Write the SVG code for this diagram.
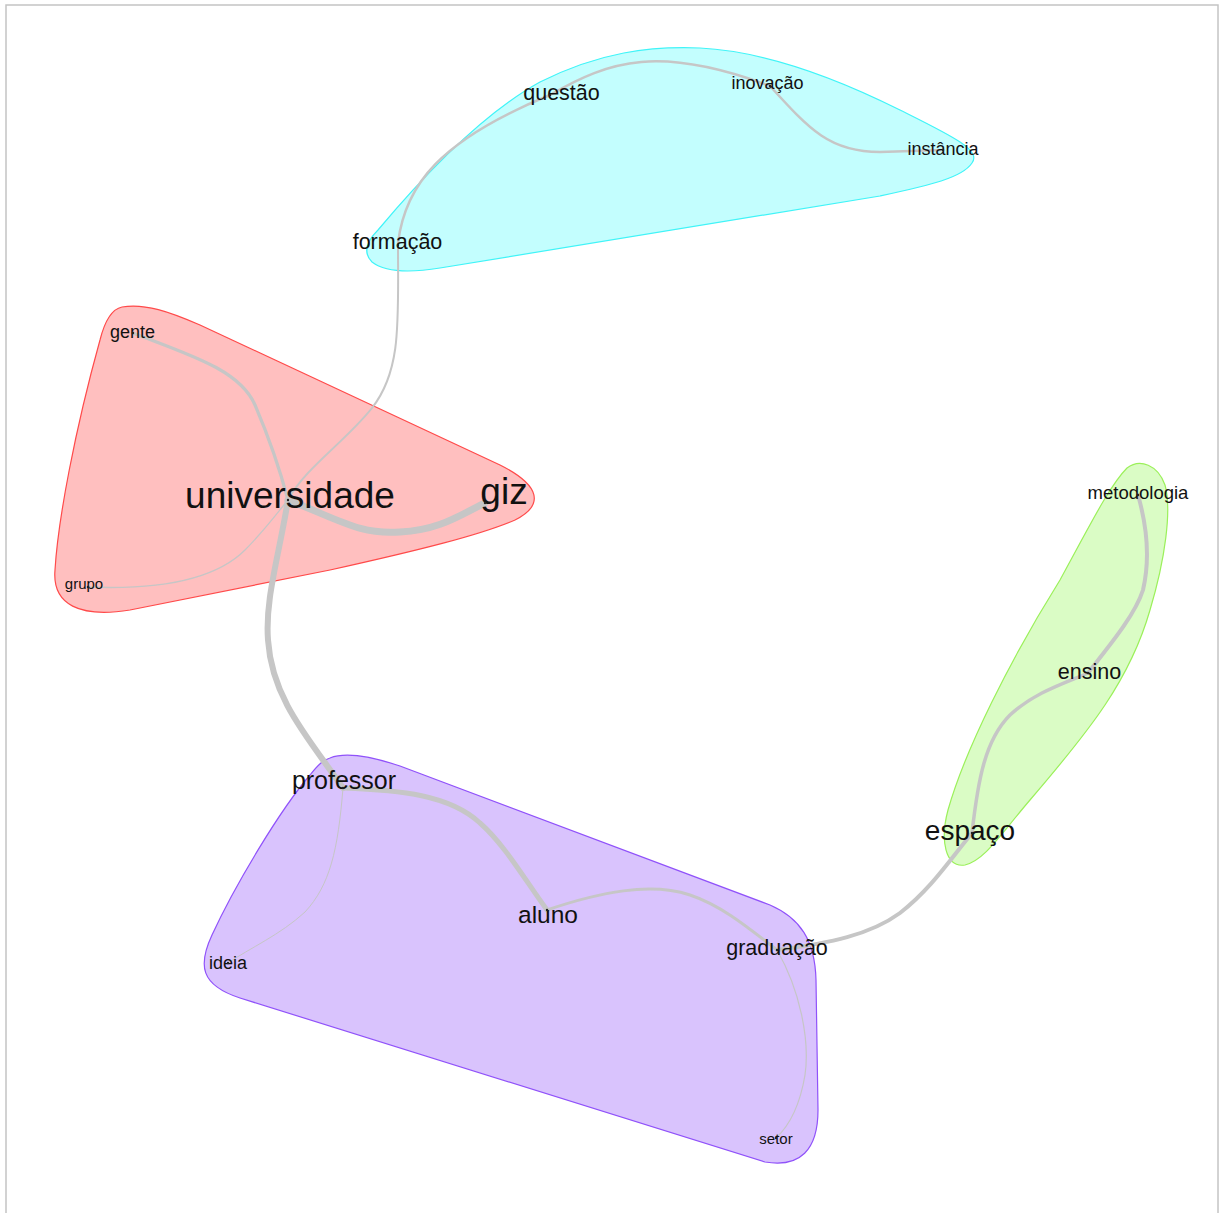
<svg xmlns="http://www.w3.org/2000/svg" width="1221" height="1213" viewBox="0 0 1221 1213">
<style>
.hull{stroke-width:1.2}
.e{fill:none;stroke:#c6c6c6;stroke-linecap:round}
.t{font-family:"Liberation Sans",Arial,sans-serif;fill:#111;text-anchor:middle}
.d{fill:#222}
</style>
<rect x="0" y="0" width="1221" height="1213" fill="#ffffff"/>
<rect x="6" y="5" width="1212" height="1240" fill="none" stroke="#c4c4c4" stroke-width="1.5"/>
<g id="hulls">
<path id="hull-cyan" class="hull" fill="#C3FEFE" stroke="#40F4F8" d="M372,262 C362,252 368,240 378,230 C420,180 480,115 540,82 C600,52 650,46 700,48 C760,51 830,75 900,110 C950,135 982,150 972,163 C962,178 930,185 880,196 L440,268 C410,273 385,272 372,262 Z"/>
<path id="hull-red" class="hull" fill="#FFBFBF" stroke="#FF4A4A" d="M122,307 C145,303 170,312 200,325 L500,465 C540,485 545,505 515,520 C480,535 420,550 330,570 L130,610 C80,618 52,605 55,570 C58,520 75,430 100,340 C105,320 112,309 122,307 Z"/>
<path id="hull-purple" class="hull" fill="#D9C3FD" stroke="#9052FA" d="M330,758 C345,752 370,756 400,766 L770,905 C800,918 815,940 816,980 L818,1110 C818,1150 800,1168 765,1162 L240,998 C200,985 198,965 212,935 C235,885 280,810 310,775 C318,765 323,760 330,758 Z"/>
<path id="hull-green" class="hull" fill="#DAFCC5" stroke="#9BF05A" d="M1127,468 C1140,458 1158,465 1165,485 C1172,510 1165,560 1150,610 C1130,680 1090,730 1030,800 C1000,835 985,860 965,865 C945,868 940,840 948,810 C965,750 1010,660 1060,580 C1090,525 1110,485 1127,468 Z"/>
</g>
<g id="connectors">
<path class="e" stroke-width="2.5" d="M398,243 C405,185 440,140 550,95"/>
<path class="e" stroke-width="2.5" d="M550,95 C610,60 660,45 770,86"/>
<path class="e" stroke-width="2.5" d="M770,86 C810,130 830,152 880,152 L943,150"/>
<path class="e" stroke-width="2" d="M398,243 C398,320 402,370 372,408 C345,442 305,468 288,500"/>
<path class="e" stroke-width="3.2" d="M133,333 C190,355 240,370 255,405 C270,440 280,470 288,500"/>
<path class="e" stroke-width="1.3" d="M88,587 C160,590 215,580 245,550 C265,530 278,512 288,500"/>
<path class="e" stroke-width="7" d="M288,500 C340,520 360,535 400,532 C440,530 460,515 485,503"/>
<path class="e" stroke-width="6" d="M288,500 C278,560 265,600 268,640 C272,700 310,740 343,788"/>
<path class="e" stroke-width="5" d="M343,788 C400,790 450,795 480,823 C505,845 525,880 547,910"/>
<path class="e" stroke-width="3" d="M547,910 C600,892 650,882 690,895 C720,905 745,925 777,950"/>
<path class="e" stroke-width="4" d="M777,950 C830,943 870,935 900,913 C930,890 950,860 972,833"/>
<path class="e" stroke-width="3.5" d="M972,833 C978,780 985,740 1010,715 C1035,692 1065,683 1088,673"/>
<path class="e" stroke-width="4" d="M1088,673 C1110,645 1135,615 1143,590 C1150,560 1148,530 1138,495"/>
<path class="e" stroke-width="1" d="M343,788 C338,850 330,885 305,912 C280,935 250,948 228,963"/>
<path class="e" stroke-width="1.2" d="M777,950 C800,990 810,1040 805,1075 C800,1105 790,1125 776,1138"/>
</g>
<g id="node-formacao"><text class="t" x="397.5" y="249" font-size="21.5">formação</text><circle class="d" cx="398" cy="245" r="1.2"/></g>
<g id="node-questao"><text class="t" x="561.5" y="100" font-size="21.5">questão</text><circle class="d" cx="550" cy="95" r="1.2"/></g>
<g id="node-inovacao"><text class="t" x="767.5" y="89" font-size="18">inovação</text><circle class="d" cx="770" cy="86" r="1.2"/></g>
<g id="node-instancia"><text class="t" x="943" y="155" font-size="18">instância</text><circle class="d" cx="943" cy="150" r="1.2"/></g>
<g id="node-gente"><text class="t" x="132.5" y="338" font-size="18">gente</text><circle class="d" cx="133" cy="333" r="1.2"/></g>
<g id="node-grupo"><text class="t" x="84" y="589" font-size="15">grupo</text><circle class="d" cx="88" cy="587" r="1.2"/></g>
<g id="node-universidade"><text class="t" x="290" y="508" font-size="37">universidade</text><circle class="d" cx="288" cy="500" r="1.2"/></g>
<g id="node-giz"><text class="t" x="504" y="504" font-size="37">giz</text><circle class="d" cx="485" cy="503" r="1.2"/></g>
<g id="node-professor"><text class="t" x="344" y="789" font-size="25">professor</text><circle class="d" cx="343" cy="788" r="1.2"/></g>
<g id="node-aluno"><text class="t" x="548" y="923" font-size="24.5">aluno</text><circle class="d" cx="547" cy="910" r="1.2"/></g>
<g id="node-graduacao"><text class="t" x="777" y="955" font-size="21.5">graduação</text><circle class="d" cx="777" cy="950" r="1.2"/></g>
<g id="node-ideia"><text class="t" x="228" y="969" font-size="18">ideia</text><circle class="d" cx="228" cy="963" r="1.2"/></g>
<g id="node-setor"><text class="t" x="776" y="1144" font-size="15">setor</text><circle class="d" cx="776" cy="1138" r="1.2"/></g>
<g id="node-espaco"><text class="t" x="970" y="840" font-size="28">espaço</text><circle class="d" cx="972" cy="833" r="1.2"/></g>
<g id="node-ensino"><text class="t" x="1089.5" y="679" font-size="21.5">ensino</text><circle class="d" cx="1088" cy="673" r="1.2"/></g>
<g id="node-metodologia"><text class="t" x="1138" y="499" font-size="18.5">metodologia</text><circle class="d" cx="1138" cy="495" r="1.2"/></g>
</svg>
